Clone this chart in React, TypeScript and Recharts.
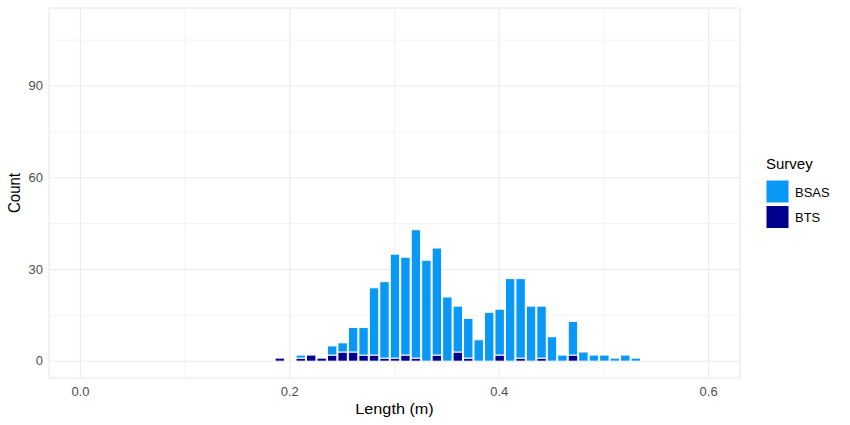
import React from 'react';
import { ComposedChart, Bar, XAxis, YAxis, CartesianGrid } from 'recharts';

const lengthBins = [0.19, 0.2, 0.21, 0.22, 0.23, 0.24, 0.25, 0.26, 0.27, 0.28, 0.29, 0.3, 0.31, 0.32, 0.33, 0.34, 0.35, 0.36, 0.37, 0.38, 0.39, 0.4, 0.41, 0.42, 0.43, 0.44, 0.45, 0.46, 0.47, 0.48, 0.49, 0.5, 0.51, 0.52, 0.53];
const bsasCounts = [0, 0, 1, 0, 0, 3, 3, 8, 9, 22, 25, 34, 32, 42, 33, 35, 21, 15, 13, 7, 16, 15, 27, 26, 18, 17, 8, 2, 11, 3, 2, 2, 1, 2, 1];
const btsCounts = [1, 0, 1, 2, 1, 2, 3, 3, 2, 2, 1, 1, 2, 1, 0, 2, 0, 3, 1, 0, 0, 2, 0, 1, 0, 1, 0, 0, 2, 0, 0, 0, 0, 0, 0];

const xTicks = [0, 0.2, 0.4, 0.6];
const xMinorTicks = [0.1, 0.3, 0.5];
const yTicks = [0, 30, 60, 90];
const yMinorTicks = [15, 45, 75, 105];
const xTickLabels = ['0.0', '0.2', '0.4', '0.6'];

const seriesNames = ['BSAS', 'BTS'];
const BSAS_COLOR = '#0A98F6';
const BTS_COLOR = '#01008E';
const FONT = '"Liberation Sans", Arial, sans-serif';
const SX = 1.08;

const data = lengthBins.map((len, i) => ({ len, BTS: btsCounts[i], BSAS: bsasCounts[i] }));

const XTick = ({ x, y, payload }: any) => (
  <text transform={`translate(${x},${y}) scale(${SX},1)`} textAnchor="middle" dy="0.71em" fill="#4D4D4D" fontSize={12} fontFamily={FONT}>
    {xTickLabels[xTicks.indexOf(payload.value)] ?? String(payload.value)}
  </text>
);

const YTick = ({ x, y, payload }: any) => (
  <text transform={`translate(${x},${y}) scale(${SX},1)`} textAnchor="end" dy="0.355em" fill="#4D4D4D" fontSize={12} fontFamily={FONT}>
    {String(payload.value)}
  </text>
);

export default function App() {
  return (
    <div style={{ position: 'absolute', left: 0, top: 0, width: 850, height: 425, background: '#fff' }}>
      <ComposedChart width={850} height={425} data={data} margin={{ top: 8, right: 110, left: 0, bottom: 0 }}>
        <XAxis xAxisId="minor" dataKey="len" type="number" domain={[-0.03, 0.63]} ticks={xMinorTicks} allowDataOverflow hide />
        <YAxis yAxisId="minor" type="number" domain={[-5.5, 115.5]} ticks={yMinorTicks} allowDataOverflow hide />
        <CartesianGrid xAxisId="minor" yAxisId="minor" stroke="#EBEBEB" strokeWidth={0.55} />
        <XAxis
          dataKey="len"
          type="number"
          domain={[-0.03, 0.63]}
          ticks={xTicks}
          allowDataOverflow
          axisLine={false}
          tickLine={false}
          tickSize={0}
          tickMargin={9}
          height={47}
          tick={<XTick />}
          label={({ viewBox }: any) => {
            const x = viewBox.x + viewBox.width / 2;
            const y = viewBox.y + 36;
            return (
              <text transform={`translate(${x},${y}) scale(${SX},1)`} textAnchor="middle" fontSize={15} fontFamily={FONT} fill="#000">
                Length (m)
              </text>
            );
          }}
        />
        <YAxis
          type="number"
          domain={[-5.5, 115.5]}
          ticks={yTicks}
          allowDataOverflow
          axisLine={false}
          tickLine={false}
          tickSize={0}
          tickMargin={6}
          width={49}
          tick={<YTick />}
          label={({ viewBox }: any) => {
            const x = viewBox.x + 20;
            const y = viewBox.y + viewBox.height / 2;
            return (
              <text transform={`translate(${x},${y}) rotate(-90) scale(1,${SX})`} textAnchor="middle" fontSize={15} fontFamily={FONT} fill="#000">
                Count
              </text>
            );
          }}
        />
        <CartesianGrid stroke="#EBEBEB" strokeWidth={1.1} />
        <Bar dataKey="BTS" stackId="s" fill={BTS_COLOR} stroke="#FFFFFF" strokeWidth={1} barSize={10.47} isAnimationActive={false} />
        <Bar dataKey="BSAS" stackId="s" fill={BSAS_COLOR} stroke="#FFFFFF" strokeWidth={1} barSize={10.47} isAnimationActive={false} />
      </ComposedChart>
      <svg width={850} height={425} style={{ position: 'absolute', left: 0, top: 0, pointerEvents: 'none' }}>
        <text x={766} y={169} fontSize={15} fontFamily={FONT} fill="#000">Survey</text>
        <rect x={766} y={180} width={23} height={23} fill={BSAS_COLOR} stroke="#fff" strokeWidth={1} />
        <rect x={766} y={205.5} width={23} height={23} fill={BTS_COLOR} stroke="#fff" strokeWidth={1} />
        <text transform={`translate(795,197) scale(${SX},1)`} fontSize={12} fontFamily={FONT} fill="#000">{seriesNames[0]}</text>
        <text transform={`translate(795,222) scale(${SX},1)`} fontSize={12} fontFamily={FONT} fill="#000">{seriesNames[1]}</text>
      </svg>
    </div>
  );
}
